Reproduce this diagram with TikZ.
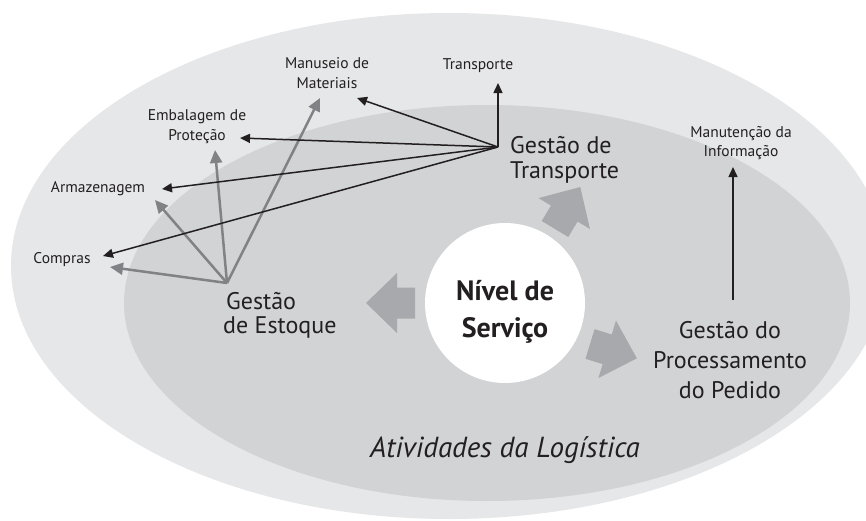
\documentclass[tikz,border=0pt]{standalone}
\usepackage{fontspec}
\setmainfont{PT Sans}
\usetikzlibrary{arrows.meta}
\definecolor{outerc}{HTML}{E6E7E8}
\definecolor{innerc}{HTML}{D1D3D4}
\definecolor{blockc}{HTML}{A7A9AC}
\definecolor{grayarr}{HTML}{808285}
\definecolor{ink}{HTML}{231F20}
\newcommand{\txtblock}[2]{\begin{tabular}[t]{@{}#1@{}}#2\end{tabular}}
\tikzset{
  smalllbl/.style={anchor=base, inner sep=0pt, text=ink, font=\fontsize{15.5}{20}\selectfont},
  biglbl/.style={anchor=base, inner sep=0pt, text=ink, font=\fontsize{24}{25}\selectfont},
  blackarr/.style={draw=ink, line width=1.5pt, -{Triangle[length=10pt,width=9pt]}},
  grayarrow/.style={draw=grayarr, line width=2.5pt, -{Triangle[length=13pt,width=12pt]}},
  blockarrow/.pic={\fill[blockc] (0,-15.5) -- (18,-15.5) -- (18,-30) -- (49,0) -- (18,30) -- (18,15.5) -- (0,15.5) -- cycle;}
}
\begin{document}
\begin{tikzpicture}[x=1pt,y=-1pt]
\useasboundingbox (0,0) rectangle (866,520);
\begin{scope}
\clip (0,0) rectangle (866,520);
\fill[outerc] (449,266) ellipse [x radius=438, y radius=253];
\fill[innerc] (487,303) ellipse [x radius=363, y radius=198];
\end{scope}

% central circle
\node[circle, fill=white, minimum size=160pt, inner sep=0pt] (circ) at (505,303) {};
\node[anchor=base, inner sep=0pt, text=ink, font=\fontsize{28}{37}\selectfont\bfseries] (nivel) at (505,300) {\txtblock{c}{Nível de\\Serviço}};

% block arrows
\pic[rotate=180] at (415,303) {blockarrow};
\pic[rotate=59] at (555,229) {blockarrow};
\pic[rotate=-17] at (590,344) {blockarrow};

% main labels
\node[biglbl, anchor=base west] (gtransp) at (510,153) {\txtblock{l}{Gestão de\\Transporte}};
\node[biglbl, anchor=base west, font=\fontsize{24}{24}\selectfont] (gestoque) at (223,309) {\txtblock{l}{\hspace{3pt}Gestão\\de Estoque}};
\node[biglbl, font=\fontsize{24}{30}\selectfont] (gproc) at (730,338) {\txtblock{c}{Gestão do\\Processamento\\do Pedido}};
\node[anchor=base, inner sep=0pt, text=ink, font=\fontsize{29}{30}\selectfont\itshape] (ativ) at (505,457) {Atividades da Logística};

% small labels
\node[smalllbl] (manu) at (327,68) {\txtblock{c}{Manuseio de\\Materiais}};
\node[smalllbl] (transp) at (478,69) {Transporte};
\node[smalllbl] (emb) at (197,120) {\txtblock{c}{Embalagem de\\Proteção}};
\node[smalllbl] (armaz) at (98,192) {Armazenagem};
\node[smalllbl] (compr) at (62,263) {Compras};
\node[smalllbl, font=\fontsize{15.5}{19}\selectfont] (manut) at (741,137) {\txtblock{c}{Manutenção da\\Informação}};

% hubs and arrow ends
\coordinate (hubT) at (498,147);
\coordinate (hubE) at (227,283);
\coordinate (tTr) at (498,83);
\coordinate (tMa) at (357,98);
\coordinate (tEm) at (240,138);
\coordinate (tAr) at (162,189);
\coordinate (tCo) at (103,256);
\coordinate (gCo) at (110,267);
\coordinate (gAr) at (155,200);
\coordinate (gEm) at (215,150);
\coordinate (gMa) at (320,98);
\coordinate (pStart) at (733,300);
\coordinate (tMan) at (733,167);

% gray arrows from Gestão de Estoque
\draw[grayarrow] (hubE) -- (gCo);
\draw[grayarrow] (hubE) -- (gAr);
\draw[grayarrow] (hubE) -- (gEm);
\draw[grayarrow] (hubE) -- (gMa);

% black arrows from Gestão de Transporte
\draw[blackarr] (hubT) -- (tTr);
\draw[blackarr] (hubT) -- (tMa);
\draw[blackarr] (hubT) -- (tEm);
\draw[blackarr] (hubT) -- (tAr);
\draw[blackarr] (hubT) -- (tCo);

% information arrow
\draw[blackarr] (pStart) -- (tMan);
\end{tikzpicture}
\end{document}
